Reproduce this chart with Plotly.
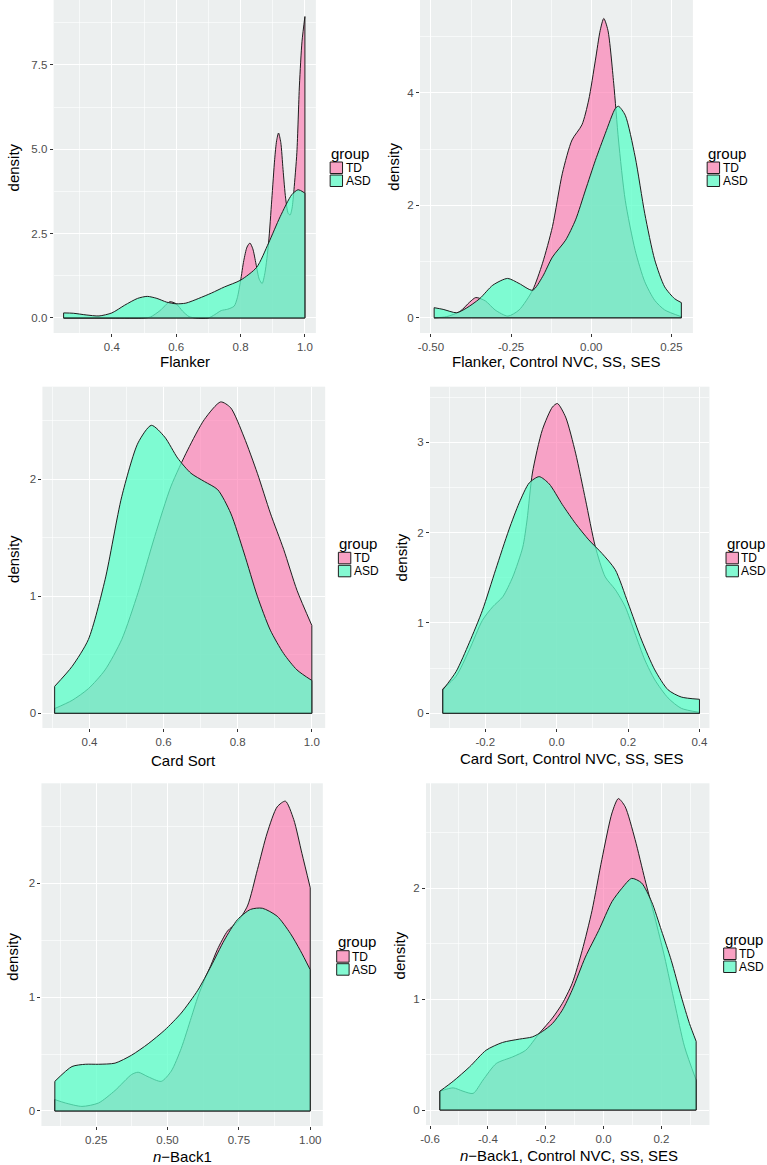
import plotly.graph_objects as go

W, H = 767, 1165

# ---------------- data ----------------
# Panel 1: Flanker
FLANKER_TD_X = [0.25, 0.40, 0.50, 0.52, 0.55, 0.58, 0.60, 0.62, 0.64, 0.66, 0.70, 0.72, 0.74, 0.76, 0.78, 0.79,
                0.80, 0.81, 0.82, 0.829, 0.838, 0.848, 0.858, 0.867, 0.876, 0.887, 0.897, 0.906, 0.912, 0.918,
                0.925, 0.932, 0.94, 0.948, 0.954, 0.96, 0.966, 0.975, 0.983, 0.991, 1.0]
FLANKER_TD_Y = [0.0, 0.0, 0.0, 0.03, 0.22, 0.48, 0.42, 0.2, 0.04, 0.0, 0.0, 0.1, 0.22, 0.26, 0.35, 0.6,
                1.1, 1.7, 2.1, 2.22, 2.05, 1.6, 1.15, 1.02, 1.35, 2.22, 3.5, 4.7, 5.25, 5.48,
                5.2, 4.4, 3.55, 3.1, 3.05, 3.25, 3.8, 4.9, 6.9, 8.2, 8.93]
FLANKER_ASD_X = [0.25, 0.28, 0.32, 0.36, 0.40, 0.44, 0.48, 0.51, 0.54, 0.57, 0.60, 0.63, 0.67, 0.71, 0.75,
                 0.80, 0.85, 0.887, 0.923, 0.959, 0.979, 1.0]
FLANKER_ASD_Y = [0.15, 0.14, 0.09, 0.06, 0.15, 0.38, 0.58, 0.64, 0.58, 0.47, 0.42, 0.44, 0.58, 0.74, 0.92,
                 1.12, 1.5, 2.22, 3.0, 3.65, 3.8, 3.7]

# Panel 2: Flanker, Control NVC, SS, SES
FLANKERC_TD_X = [-0.49, -0.452, -0.41, -0.379, -0.36, -0.33, -0.30, -0.26, -0.225, -0.183, -0.152, -0.121,
                 -0.09, -0.06, -0.029, -0.008, 0.013, 0.028, 0.039, 0.052, 0.07, 0.085, 0.106, 0.137,
                 0.167, 0.198, 0.229, 0.281]
FLANKERC_TD_Y = [0.0, 0.02, 0.11, 0.28, 0.36, 0.3, 0.14, 0.03, 0.14, 0.49, 0.97, 1.62,
                 2.57, 3.16, 3.43, 3.87, 4.58, 5.11, 5.32, 5.11, 4.17, 3.16, 2.09, 1.20,
                 0.64, 0.31, 0.14, 0.02]
FLANKERC_ASD_X = [-0.49, -0.462, -0.42, -0.39, -0.348, -0.307, -0.261, -0.225, -0.183, -0.152, -0.121,
                  -0.08, -0.049, -0.018, 0.013, 0.044, 0.075, 0.085, 0.106, 0.137, 0.167, 0.198, 0.229,
                  0.26, 0.281]
FLANKERC_ASD_Y = [0.18, 0.15, 0.09, 0.17, 0.34, 0.58, 0.70, 0.61, 0.49, 0.73, 1.08,
                  1.38, 1.74, 2.27, 2.80, 3.28, 3.72, 3.76, 3.60, 2.86, 1.85, 1.03, 0.55,
                  0.34, 0.27]

# Panel 3: Card Sort
CARD_TD_X = [0.306, 0.353, 0.397, 0.442, 0.487, 0.531, 0.576, 0.62, 0.665, 0.71, 0.754, 0.781, 0.817,
             0.853, 0.888, 0.924, 0.96, 1.0]
CARD_TD_Y = [0.04, 0.11, 0.21, 0.37, 0.63, 1.03, 1.51, 1.94, 2.25, 2.51, 2.66, 2.61, 2.36,
             2.05, 1.71, 1.40, 1.05, 0.75]
CARD_ASD_X = [0.306, 0.353, 0.397, 0.442, 0.487, 0.531, 0.567, 0.603, 0.638, 0.674, 0.71, 0.746, 0.781,
              0.817, 0.853, 0.888, 0.924, 0.96, 1.0]
CARD_ASD_Y = [0.23, 0.40, 0.63, 1.14, 1.85, 2.31, 2.46, 2.36, 2.18, 2.05, 1.98, 1.91, 1.71,
              1.37, 1.0, 0.71, 0.51, 0.37, 0.28]

# Panel 4: Card Sort, Control NVC, SS, SES
CARDC_TD_X = [-0.319, -0.282, -0.245, -0.208, -0.179, -0.151, -0.123, -0.095, -0.083, -0.068, -0.04, -0.012,
              0.002, 0.025, 0.053, 0.081, 0.108, 0.136, 0.164, 0.192, 0.219, 0.247, 0.275, 0.312, 0.349, 0.40]
CARDC_TD_Y = [0.27, 0.41, 0.70, 1.03, 1.18, 1.29, 1.51, 1.84, 2.14, 2.66, 3.14, 3.39,
              3.43, 3.28, 2.88, 2.36, 1.85, 1.51, 1.37, 1.18, 0.89, 0.59, 0.37, 0.17, 0.055, 0.01]
CARDC_ASD_X = [-0.319, -0.282, -0.245, -0.208, -0.171, -0.134, -0.105, -0.077, -0.049, -0.021, 0.016,
               0.053, 0.09, 0.127, 0.164, 0.20, 0.238, 0.275, 0.312, 0.349, 0.40]
CARDC_ASD_Y = [0.26, 0.46, 0.78, 1.14, 1.59, 2.03, 2.33, 2.55, 2.62, 2.54, 2.31,
               2.10, 1.92, 1.77, 1.59, 1.22, 0.81, 0.48, 0.26, 0.18, 0.155]

# Panel 5: n-Back1
NBACK_TD_X = [0.105, 0.142, 0.20, 0.258, 0.316, 0.374, 0.397, 0.432, 0.478, 0.513, 0.548, 0.583, 0.606,
              0.629, 0.652, 0.675, 0.71, 0.745, 0.78, 0.815, 0.849, 0.884, 0.913, 0.942, 0.971, 1.0]
NBACK_TD_Y = [0.10, 0.07, 0.04, 0.07, 0.18, 0.32, 0.34, 0.30, 0.26, 0.35, 0.55, 0.82, 1.0,
              1.15, 1.28, 1.42, 1.58, 1.66, 1.80, 2.12, 2.44, 2.67, 2.72, 2.56, 2.26, 1.96]
NBACK_ASD_X = [0.105, 0.165, 0.212, 0.258, 0.316, 0.374, 0.432, 0.49, 0.548, 0.606, 0.652, 0.699,
               0.745, 0.791, 0.832, 0.884, 0.93, 0.965, 1.0]
NBACK_ASD_Y = [0.26, 0.39, 0.41, 0.41, 0.42, 0.49, 0.59, 0.71, 0.86, 1.06, 1.27, 1.50,
               1.68, 1.77, 1.78, 1.71, 1.56, 1.41, 1.24]

# Panel 6: n-Back1, Control NVC, SS, SES
NBACKC_TD_X = [-0.566, -0.52, -0.486, -0.451, -0.417, -0.371, -0.314, -0.269, -0.223, -0.177, -0.143,
               -0.109, -0.074, -0.04, -0.006, 0.029, 0.051, 0.074, 0.109, 0.143, 0.177, 0.211, 0.246,
               0.28, 0.32]
NBACKC_TD_Y = [0.17, 0.20, 0.17, 0.15, 0.27, 0.42, 0.48, 0.54, 0.69, 0.83, 0.96,
               1.14, 1.44, 1.80, 2.26, 2.68, 2.81, 2.74, 2.44, 2.08, 1.74, 1.38, 0.96,
               0.57, 0.27]
NBACKC_ASD_X = [-0.566, -0.52, -0.463, -0.406, -0.349, -0.291, -0.246, -0.211, -0.177, -0.143, -0.109,
                -0.063, -0.017, 0.029, 0.063, 0.097, 0.131, 0.166, 0.20, 0.234, 0.269, 0.297, 0.32]
NBACKC_ASD_Y = [0.17, 0.26, 0.39, 0.54, 0.61, 0.64, 0.66, 0.71, 0.78, 0.90, 1.08,
                1.38, 1.62, 1.88, 2.0, 2.09, 2.05, 1.88, 1.62, 1.35, 1.02, 0.78, 0.62]

# tick values / labels
FLANKER_XTICKS = [0.4, 0.6, 0.8, 1.0]
FLANKER_XLABELS = ["0.4", "0.6", "0.8", "1.0"]
FLANKER_YTICKS = [0.0, 2.5, 5.0, 7.5]
FLANKER_YLABELS = ["0.0", "2.5", "5.0", "7.5"]
FLANKERC_XTICKS = [-0.50, -0.25, 0.00, 0.25]
FLANKERC_XLABELS = ["-0.50", "-0.25", "0.00", "0.25"]
FLANKERC_YTICKS = [0, 2, 4]
FLANKERC_YLABELS = ["0", "2", "4"]
CARD_XTICKS = [0.4, 0.6, 0.8, 1.0]
CARD_XLABELS = ["0.4", "0.6", "0.8", "1.0"]
CARD_YTICKS = [0, 1, 2]
CARD_YLABELS = ["0", "1", "2"]
CARDC_XTICKS = [-0.2, 0.0, 0.2, 0.4]
CARDC_XLABELS = ["-0.2", "0.0", "0.2", "0.4"]
CARDC_YTICKS = [0, 1, 2, 3]
CARDC_YLABELS = ["0", "1", "2", "3"]
NBACK_XTICKS = [0.25, 0.50, 0.75, 1.00]
NBACK_XLABELS = ["0.25", "0.50", "0.75", "1.00"]
NBACK_YTICKS = [0, 1, 2]
NBACK_YLABELS = ["0", "1", "2"]
NBACKC_XTICKS = [-0.6, -0.4, -0.2, 0.0, 0.2]
NBACKC_XLABELS = ["-0.6", "-0.4", "-0.2", "0.0", "0.2"]
NBACKC_YTICKS = [0, 1, 2]
NBACKC_YLABELS = ["0", "1", "2"]

GROUPS = ["TD", "ASD"]
X_TITLES = ["Flanker", "Flanker, Control NVC, SS, SES", "Card Sort", "Card Sort, Control NVC, SS, SES",
            "<i>n</i>\u2212Back1", "<i>n</i>\u2212Back1, Control NVC, SS, SES"]

# ---------------- styling / layout ----------------
FONT = "Liberation Sans, Arial, Helvetica, sans-serif"
TD_FILL = "rgba(255,110,170,0.6)"
ASD_FILL = "rgba(90,255,200,0.75)"
TD_KEY = "#F8A1C4"
ASD_KEY = "#84F9D2"
OUTLINE = "#1E1E1E"
BG = "#ECEFEF"

panels = [
    dict(td=(FLANKER_TD_X, FLANKER_TD_Y), asd=(FLANKER_ASD_X, FLANKER_ASD_Y),
         xt=(FLANKER_XTICKS, FLANKER_XLABELS), yt=(FLANKER_YTICKS, FLANKER_YLABELS),
         box=(48, 312.3, 0, 333), xr=(0.219, 1.034), yr=(-0.445, 9.42),
         xminor=[0.3, 0.5, 0.7, 0.9], yminor=[1.25, 3.75, 6.25, 8.75],
         xtitle=(180, 362), ytitle=(8.5, 167), leg=(326.7, 158)),
    dict(td=(FLANKERC_TD_X, FLANKERC_TD_Y), asd=(FLANKERC_ASD_X, FLANKERC_ASD_Y),
         xt=(FLANKERC_XTICKS, FLANKERC_XLABELS), yt=(FLANKERC_YTICKS, FLANKERC_YLABELS),
         box=(417.3, 692.3, 0, 333), xr=(-0.534, 0.317), yr=(-0.27, 5.648),
         xminor=[-0.375, -0.125, 0.125], yminor=[1, 3, 5],
         xtitle=(554.8, 361.7), ytitle=(391, 166.7), leg=(706.7, 158)),
    dict(td=(CARD_TD_X, CARD_TD_Y), asd=(CARD_ASD_X, CARD_ASD_Y),
         xt=(CARD_XTICKS, CARD_XLABELS), yt=(CARD_YTICKS, CARD_YLABELS),
         box=(36.7, 321.7, 386.7, 728), xr=(0.273, 1.036), yr=(-0.126, 2.79),
         xminor=[0.3, 0.5, 0.7, 0.9], yminor=[0.5, 1.5, 2.5],
         xtitle=(179, 760), ytitle=(7, 559), leg=(335, 548.3)),
    dict(td=(CARDC_TD_X, CARDC_TD_Y), asd=(CARDC_ASD_X, CARDC_ASD_Y),
         xt=(CARDC_XTICKS, CARDC_XLABELS), yt=(CARDC_YTICKS, CARDC_YLABELS),
         box=(427.3, 709, 386.7, 728), xr=(-0.355, 0.428), yr=(-0.163, 3.616),
         xminor=[-0.3, -0.1, 0.1, 0.3], yminor=[0.5, 1.5, 2.5, 3.5],
         xtitle=(569.8, 758.3), ytitle=(399, 557.5), leg=(725.7, 548.3)),
    dict(td=(NBACK_TD_X, NBACK_TD_Y), asd=(NBACK_ASD_X, NBACK_ASD_Y),
         xt=(NBACK_XTICKS, NBACK_XLABELS), yt=(NBACK_YTICKS, NBACK_YLABELS),
         box=(35.7, 319.3, 783.3, 1126), xr=(0.058, 1.044), yr=(-0.132, 2.877),
         xminor=[0.125, 0.375, 0.625, 0.875], yminor=[0.5, 1.5, 2.5],
         xtitle=(178.3, 1156.7), ytitle=(7, 956.7), leg=(333.3, 946.7)),
    dict(td=(NBACKC_TD_X, NBACKC_TD_Y), asd=(NBACKC_ASD_X, NBACKC_ASD_Y),
         xt=(NBACKC_XTICKS, NBACKC_XLABELS), yt=(NBACKC_YTICKS, NBACKC_YLABELS),
         box=(423.3, 709, 783.3, 1125), xr=(-0.614, 0.366), yr=(-0.135, 2.948),
         xminor=[-0.5, -0.3, -0.1, 0.1, 0.3], yminor=[0.5, 1.5, 2.5],
         xtitle=(567.3, 1155), ytitle=(396.5, 955), leg=(723.3, 944)),
]


def px(x):
    return x / W


def py(y):
    return 1 - y / H


fig = go.Figure()
layout = dict(width=W, height=H, margin=dict(l=0, r=0, t=0, b=0, pad=0), paper_bgcolor="white",
              plot_bgcolor=BG, showlegend=False, font=dict(family=FONT))
annotations = []
shapes = []

for i, p in enumerate(panels):
    n = i + 1
    xa = "x" if n == 1 else f"x{n}"
    ya = "y" if n == 1 else f"y{n}"
    x0, x1, y0, y1 = p["box"]
    for key, fill in (("td", TD_FILL), ("asd", ASD_FILL)):
        xs, ys = p[key]
        fig.add_trace(go.Scatter(x=xs, y=ys, xaxis=xa, yaxis=ya, mode="lines", fill="tozeroy",
                                 fillcolor=fill, line=dict(color=OUTLINE, width=1, shape="spline",
                                                           smoothing=0.7),
                                 hoverinfo="skip", showlegend=False))
        fig.add_trace(go.Scatter(x=[xs[0], xs[0], xs[-1], xs[-1]], y=[ys[0], 0, 0, ys[-1]],
                                 xaxis=xa, yaxis=ya, mode="lines",
                                 line=dict(color=OUTLINE, width=1), hoverinfo="skip", showlegend=False))
    axcommon = dict(showgrid=True, gridcolor="white", gridwidth=1.1, zeroline=False,
                    ticks="outside", ticklen=3, tickwidth=1, tickcolor="#333333", showline=False,
                    tickfont=dict(family=FONT, size=11.5, color="#4D4D4D"), tickmode="array")
    xname = "xaxis" if n == 1 else f"xaxis{n}"
    yname = "yaxis" if n == 1 else f"yaxis{n}"
    layout[xname] = dict(axcommon, domain=[px(x0), px(x1)], range=list(p["xr"]),
                         tickvals=p["xt"][0], ticktext=p["xt"][1], anchor=ya,
                         minor=dict(tickmode="array", tickvals=p["xminor"], showgrid=True,
                                    gridcolor="rgba(255,255,255,0.6)", gridwidth=0.6, ticks=""))
    layout[yname] = dict(axcommon, domain=[py(y1), py(y0)], range=list(p["yr"]),
                         tickvals=p["yt"][0], ticktext=p["yt"][1], anchor=xa,
                         minor=dict(tickmode="array", tickvals=p["yminor"], showgrid=True,
                                    gridcolor="rgba(255,255,255,0.6)", gridwidth=0.6, ticks=""))
    # axis titles
    annotations.append(dict(text=X_TITLES[i], x=px(p["xtitle"][0]), y=py(p["xtitle"][1]),
                            xref="paper", yref="paper", xanchor="center", yanchor="middle",
                            showarrow=False, font=dict(family=FONT, size=15, color="black")))
    annotations.append(dict(text="density", x=px(p["ytitle"][0]), y=py(p["ytitle"][1]),
                            xref="paper", yref="paper", xanchor="center", yanchor="middle",
                            textangle=-90, showarrow=False, font=dict(family=FONT, size=15, color="black")))
    # legend (drawn manually per panel)
    gx, gy = p["leg"]
    annotations.append(dict(text="group", x=px(gx - 1), y=py(gy - 5), xref="paper", yref="paper",
                            xanchor="left", yanchor="middle", showarrow=False,
                            font=dict(family=FONT, size=15, color="black")))
    for k, (name, col) in enumerate(zip(GROUPS, (TD_KEY, ASD_KEY))):
        top = gy + 4 + k * 13
        shapes.append(dict(type="rect", xref="paper", yref="paper", x0=px(gx), x1=px(gx + 12.5),
                           y0=py(top + 11.5), y1=py(top), fillcolor=col,
                           line=dict(color=OUTLINE, width=1)))
        annotations.append(dict(text=name, x=px(gx + 13.5), y=py(top + 6), xref="paper", yref="paper",
                                xanchor="left", yanchor="middle", showarrow=False,
                                font=dict(family=FONT, size=12, color="black")))

layout["annotations"] = annotations
layout["shapes"] = shapes
fig.update_layout(**layout)
fig.write_html("out.html", config={"displayModeBar": False},
               post_script="document.body.style.margin='0';document.body.style.overflow='hidden';")
